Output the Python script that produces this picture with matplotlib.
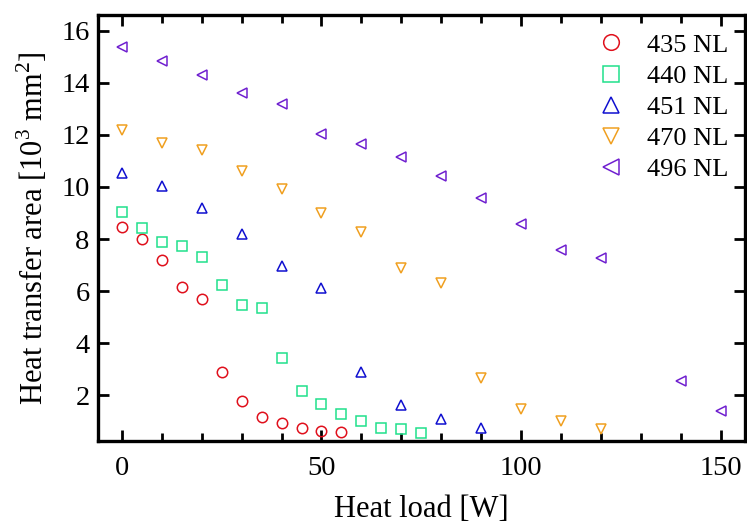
import matplotlib
matplotlib.use("Agg")
import matplotlib.pyplot as plt
from matplotlib.ticker import MultipleLocator

plt.rcParams['font.family'] = ['Liberation Serif', 'DejaVu Serif']
plt.rcParams['mathtext.fontset'] = 'custom'
plt.rcParams['mathtext.rm'] = 'Liberation Serif'

x435 = [0, 5, 10, 15, 20, 25, 30, 35, 40, 45, 50, 55]
y435 = [8.46, 8.02, 7.18, 6.15, 5.70, 2.88, 1.78, 1.18, 0.95, 0.75, 0.65, 0.58]

x440 = [0, 5, 10, 15, 20, 25, 30, 35, 40, 45, 50, 55, 60, 65, 70, 75]
y440 = [9.04, 8.43, 7.88, 7.72, 7.31, 6.24, 5.47, 5.34, 3.45, 2.17, 1.67, 1.27, 1.02, 0.73, 0.70, 0.56]

x451 = [0, 10, 20, 30, 40, 50, 60, 70, 80, 90]
y451 = [10.54, 10.02, 9.19, 8.19, 6.98, 6.14, 2.90, 1.65, 1.09, 0.73]

x470 = [0, 10, 20, 30, 40, 50, 60, 70, 80, 90, 100, 110, 120]
y470 = [12.18, 11.69, 11.43, 10.60, 9.93, 9.00, 8.27, 6.88, 6.31, 2.65, 1.46, 1.02, 0.70]

x496 = [0, 10, 20, 30, 40, 50, 60, 70, 80, 90, 100, 110, 120, 140, 150]
y496 = [15.37, 14.83, 14.28, 13.60, 13.17, 12.04, 11.65, 11.15, 10.41, 9.58, 8.59, 7.59, 7.27, 2.55, 1.40]

labels = ['435 NL', '440 NL', '451 NL', '470 NL', '496 NL']
colors = ['#e0101c', '#20e08c', '#1010d0', '#f0a020', '#7020d0']
markers = ['o', 's', '^', 'v', '<']

fig = plt.figure(figsize=(7.47, 5.26), dpi=100)
ax = fig.add_axes([0.131, 0.1616, 0.866, 0.81])

series = [(x435, y435), (x440, y440), (x451, y451), (x470, y470), (x496, y496)]
for (xs, ys), lab, c, m in zip(series, labels, colors, markers):
    ax.plot(xs, ys, linestyle='none', marker=m, markersize=7.5,
            markerfacecolor='none', markeredgecolor=c, markeredgewidth=1.1, label=lab)

ax.set_xlim(-6, 156)
ax.set_ylim(0.25, 16.6)
ax.xaxis.set_major_locator(MultipleLocator(50))
ax.xaxis.set_minor_locator(MultipleLocator(10))
ax.set_yticks([2, 4, 6, 8, 10, 12, 14, 16])

ax.tick_params(which='both', direction='in', top=True, right=True, width=2, labelsize=20.5)
ax.tick_params(which='major', length=8)
ax.tick_params(which='minor', length=6)
ax.tick_params(axis='x', pad=11)
ax.tick_params(axis='y', pad=6)
for s in ax.spines.values():
    s.set_linewidth(2.4)

ax.set_xlabel('Heat load [W]', fontsize=22, labelpad=10)
ax.set_ylabel(r'Heat transfer area [10$^3$ mm$^2$]', fontsize=22, labelpad=8)

leg = ax.legend(loc='upper right', frameon=False, fontsize=19, handletextpad=0.85,
                labelspacing=0.29, borderaxespad=0.0, borderpad=0.0, handlelength=1.0,
                markerscale=1.5, bbox_to_anchor=(0.974, 0.957))

fig.savefig('out.png', dpi=100)
